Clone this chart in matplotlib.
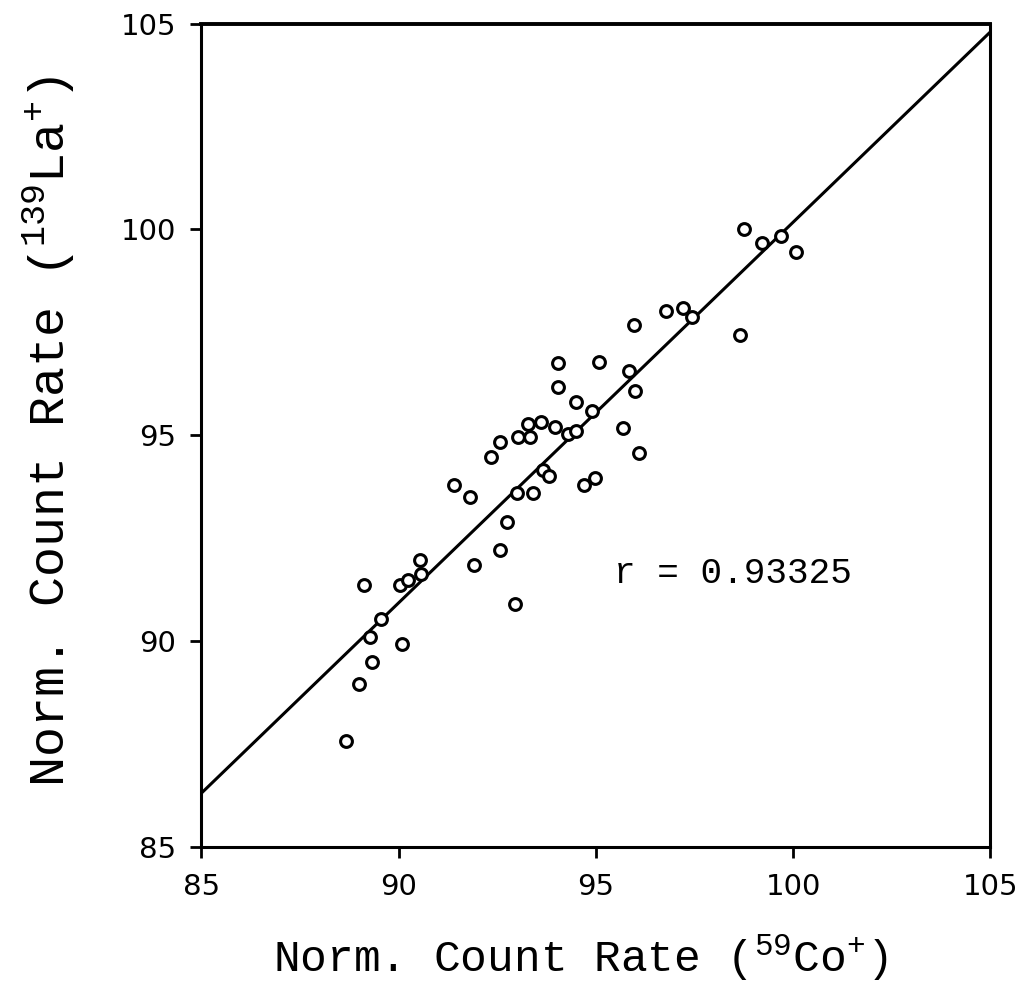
#!/usr/bin/env python3
import matplotlib
matplotlib.use('Agg')
import matplotlib.pyplot as plt

# Normalized count rates
co_rate = [94.04, 95.99, 94.49, 94.90, 93.29, 93.62, 93.97, 94.29, 94.50, 95.68,
           93.02, 93.34, 92.57, 92.34, 96.09, 93.66, 93.82, 94.71, 94.97, 91.40,
           91.81, 93.01, 93.41, 92.75, 92.56, 91.90, 90.55, 90.57, 90.04, 90.24,
           89.13, 92.94, 89.55, 89.27, 90.09, 89.32, 89.00, 88.66, 94.05, 98.76,
           99.21, 99.70, 100.07, 96.79, 97.22, 97.43, 95.96, 98.65, 95.09, 95.84]
la_rate = [96.17, 96.08, 95.81, 95.59, 95.28, 95.33, 95.21, 95.03, 95.11, 95.17,
           94.96, 94.95, 94.84, 94.48, 94.57, 94.16, 94.02, 93.80, 93.95, 93.79,
           93.49, 93.59, 93.60, 92.90, 92.20, 91.85, 91.97, 91.63, 91.37, 91.49,
           91.37, 90.91, 90.54, 90.10, 89.93, 89.50, 88.95, 87.58, 96.75, 100.00,
           99.67, 99.83, 99.45, 98.01, 98.08, 97.87, 97.69, 97.44, 96.77, 96.55]

# Regression line end points
fit_x = [85, 105]
fit_y = [86.3, 104.8]

ticks = [85, 90, 95, 100, 105]
r_text = 'r = 0.93325'

plt.rcParams['mathtext.default'] = 'regular'

fig = plt.figure(figsize=(10.22, 9.88), dpi=100)
ax = fig.add_axes([0.197, 0.143, 0.772, 0.833])

ax.plot(fit_x, fit_y, color='black', lw=2.2, zorder=2)
ax.plot(co_rate, la_rate, linestyle='none', marker='o', markersize=8.5,
        markerfacecolor='white', markeredgecolor='black', markeredgewidth=2.2, zorder=3)

ax.set_xlim(85, 105)
ax.set_ylim(85, 105)
ax.set_xticks(ticks)
ax.set_yticks(ticks)
for side in ['left', 'right', 'top', 'bottom']:
    ax.spines[side].set_linewidth(2.2)
ax.spines['top'].set_linewidth(2.8)

ax.tick_params(direction='out', length=8, width=2.0, labelsize=21)
ax.tick_params(axis='x', pad=11)
ax.tick_params(axis='y', pad=10)
for lbl in ax.get_xticklabels() + ax.get_yticklabels():
    lbl.set_fontfamily('DejaVu Sans')

ax.set_xlabel(r'Norm. Count Rate ($^{59}$Co$^{+}$)', fontfamily='Liberation Mono',
              fontsize=32)
ax.set_ylabel(r'Norm. Count Rate ($^{139}$La$^{+}$)', fontfamily='Liberation Mono',
              fontsize=36)
ax.xaxis.set_label_coords(0.48, -0.104)
ax.yaxis.set_label_coords(-0.157, 0.505)

ax.text(95.45, 91.42, r_text, fontfamily='Liberation Mono', fontsize=26,
        ha='left', va='baseline')

fig.savefig('out.png', dpi=100, facecolor='white')
